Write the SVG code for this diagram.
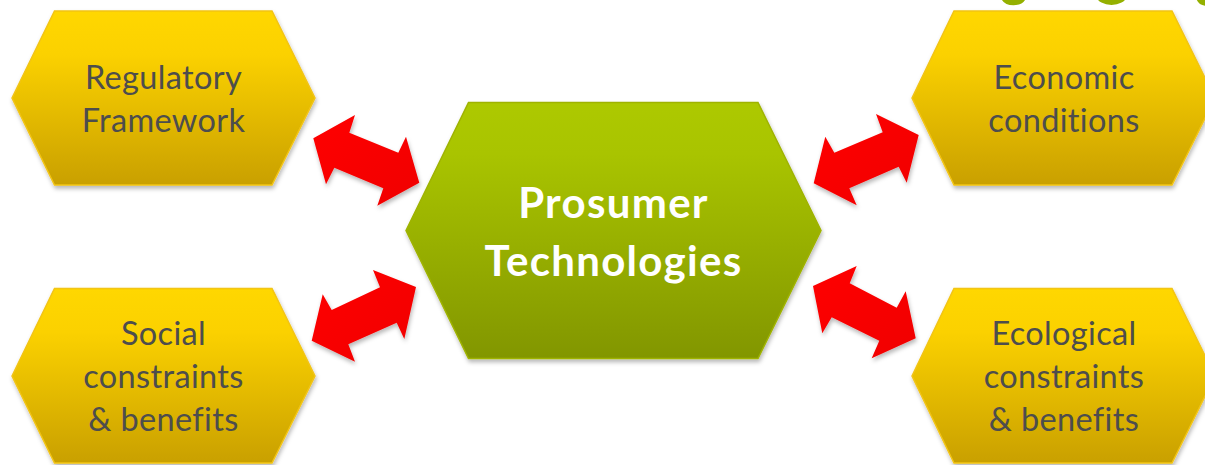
<svg xmlns="http://www.w3.org/2000/svg" width="1205" height="465" viewBox="0 0 1205 465">
<defs>
<linearGradient id="y" x1="0" y1="0" x2="0" y2="1"><stop offset="0" stop-color="#ffd700"/><stop offset="0.25" stop-color="#fbd100"/><stop offset="1" stop-color="#c9a000"/></linearGradient>
<linearGradient id="g" x1="0" y1="0" x2="0" y2="1"><stop offset="0" stop-color="#adc900"/><stop offset="0.2" stop-color="#a9c400"/><stop offset="1" stop-color="#829600"/></linearGradient>
<linearGradient id="r" x1="0" y1="0" x2="1" y2="1"><stop offset="0" stop-color="#ff0000"/><stop offset="1" stop-color="#f00000"/></linearGradient>
<filter id="s" x="-10%" y="-10%" width="120%" height="125%"><feDropShadow dx="1" dy="3" stdDeviation="2" flood-color="#000" flood-opacity="0.28"/></filter>
</defs>
<style>
.h{fill:url(#y);stroke:#f2c414;stroke-width:1.500;filter:url(#s)}
.c{fill:url(#g);stroke:#9fb300;stroke-width:1.500;filter:url(#s)}
.a{fill:url(#r);filter:url(#s)}
text{font-family:"Lato","Carlito","Liberation Sans",sans-serif;text-anchor:middle;font-variant-ligatures:none}
.t{font-size:32.500px;letter-spacing:.35px;fill:#4d4d4d}
.b{font-size:42px;letter-spacing:1.300px;font-weight:700;fill:#fff}
.l{fill:none;stroke:#94b000;stroke-width:5.500}
</style>
<g id="logo-fragment">
<path class="l" d="M1004 -2C1007 4 1020 4 1023 -2"/>
<path class="l" d="M1098 -6C1100 5 1123 5 1125 -6"/>
<path class="l" d="M1199 -2C1200 1 1203 3 1207 3"/>
</g>
<g id="connectors">
<polygon class="a" points="313.3,138.3 355,115 349.3,132.7 398.3,152.7 406,136.7 419.3,182.7 377.3,205.7 383.3,188.3 334.3,167.7 326,184.3"/>
<polygon class="a" points="311.7,340.7 322.7,294.3 331.7,310 380,287.3 373,270 416,287 404.3,339 396.7,322.7 348.3,344.3 355,361.7"/>
<polygon class="a" points="918.7,135 876,114 882.7,132.3 834.3,152.7 825.3,136.7 813.7,183.3 856.7,205.3 849.3,188.3 898.7,166.7 906.7,182.7"/>
<polygon class="a" points="813,286 856.7,266 849.7,283.3 896.7,307.7 905.7,291.3 915.7,338.3 871.7,358.3 879.3,340.7 831.7,317.3 822.3,333.3"/>
</g>
<g id="regulatory">
<polygon class="h" points="12,98 54.500,11 272,11 315,98 272,185 54.500,185"/>
<text class="t" x="163.500" y="88.500">Regulatory</text><text class="t" x="163.500" y="132">Framework</text>
</g>
<g id="economic">
<polygon class="h" points="912,98 954,11 1172,11 1215,98 1172,185 954,185"/>
<text class="t" x="1064" y="88.500">Economic</text><text class="t" x="1064" y="132">conditions</text>
</g>
<g id="social">
<polygon class="h" points="12,376 54.500,288.500 272,288.500 315,376 272,463 54.500,463"/>
<text class="t" x="163.500" y="345">Social</text><text class="t" x="163.500" y="388">constraints</text><text class="t" x="163.500" y="431">&amp; benefits</text>
</g>
<g id="ecological">
<polygon class="h" points="912,376 954,288.500 1172,288.500 1215,376 1172,463 954,463"/>
<text class="t" x="1064" y="345">Ecological</text><text class="t" x="1064" y="388">constraints</text><text class="t" x="1064" y="431">&amp; benefits</text>
</g>
<g id="prosumer">
<polygon class="c" points="406,230.500 468.500,102.500 758,102.500 821,230.500 758,358.500 468.500,358.500"/>
<text class="b" x="613.500" y="218">Prosumer</text><text class="b" x="613.500" y="276">Technologies</text>
</g>
</svg>
